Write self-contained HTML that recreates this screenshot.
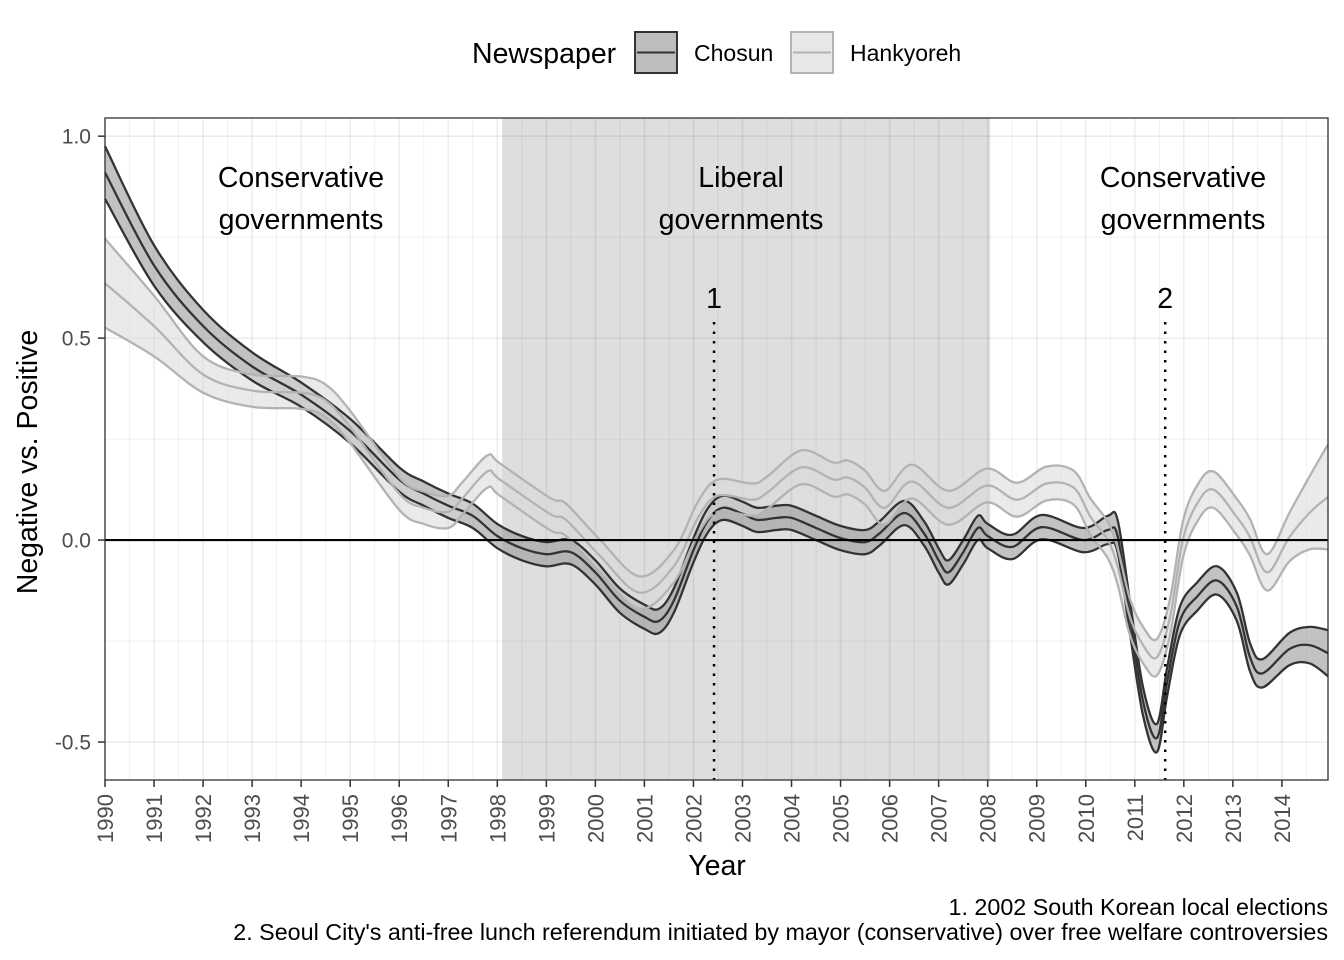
<!DOCTYPE html>
<html><head><meta charset="utf-8">
<style>
body{margin:0;background:#fff;}
svg{display:block;font-family:"Liberation Sans",sans-serif;}
</style></head>
<body>
<svg id="chart" width="1344" height="960" viewBox="0 0 1344 960" xmlns="http://www.w3.org/2000/svg">
<g id="legend">
  <text x="472" y="63" font-size="28.5" fill="#000">Newspaper</text>
  <g>
    <rect x="635" y="32" width="42" height="41" fill="#bdbdbd" stroke="#333" stroke-width="2"/>
    <line x1="637" y1="52.5" x2="675" y2="52.5" stroke="#333" stroke-width="2"/>
    <text x="694" y="61" font-size="23">Chosun</text>
  </g>
  <g>
    <rect x="791" y="32" width="42" height="41" fill="#e8e8e8" stroke="#b3b3b3" stroke-width="2"/>
    <line x1="793" y1="52.5" x2="831" y2="52.5" stroke="#b3b3b3" stroke-width="2"/>
    <text x="850" y="61" font-size="23">Hankyoreh</text>
  </g>
</g>
<g id="grid"></g>
<g id="marks"></g>
<g id="axes"></g>
<text x="301" y="187" font-size="28.5" text-anchor="middle">Conservative</text>
<text x="301" y="229" font-size="28.5" text-anchor="middle">governments</text>
<text x="741" y="187" font-size="28.5" text-anchor="middle">Liberal</text>
<text x="741" y="229" font-size="28.5" text-anchor="middle">governments</text>
<text x="1183" y="187" font-size="28.5" text-anchor="middle">Conservative</text>
<text x="1183" y="229" font-size="28.5" text-anchor="middle">governments</text>
<text x="25" y="450" font-size="28.5" text-anchor="middle" transform="rotate(-90 37 450)">Negative vs. Positive</text>
<text x="717" y="875" font-size="28.5" text-anchor="middle">Year</text>
<text x="1328" y="915" font-size="23.3" text-anchor="end">1. 2002 South Korean local elections</text>
<text x="1328" y="940" font-size="23.3" text-anchor="end">2. Seoul City's anti-free lunch referendum initiated by mayor (conservative) over free welfare controversies</text>
</svg>
<script>
const chosunYears=[1990,1991,1992,1993,1994,1995,1996,1996.5,1997,1997.5,1998,1998.5,1999,1999.5,2000,2000.5,2001,2001.3,2001.6,2002,2002.3,2002.6,2003,2003.3,2003.7,2004,2004.5,2005,2005.5,2005.8,2006.3,2006.7,2007,2007.2,2007.5,2007.8,2008,2008.5,2009.1,2009.95,2010.45,2010.65,2010.9,2011.17,2011.45,2011.66,2011.92,2012.27,2012.68,2013.08,2013.35,2013.6,2014.15,2014.56,2014.94];
const chosunMean=[0.91,0.68,0.53,0.43,0.36,0.27,0.15,0.115,0.085,0.06,0.01,-0.02,-0.035,-0.03,-0.08,-0.15,-0.19,-0.2,-0.15,-0.025,0.05,0.08,0.065,0.05,0.055,0.055,0.03,0.005,-0.005,0.017,0.067,0.017,-0.05,-0.08,-0.03,0.03,0.01,-0.017,0.032,0,0.025,0.01,-0.19,-0.4,-0.49,-0.35,-0.2,-0.14,-0.1,-0.165,-0.29,-0.33,-0.27,-0.26,-0.28];
const chosunHW=[0.065,0.05,0.04,0.035,0.03,0.03,0.03,0.03,0.03,0.03,0.03,0.03,0.03,0.03,0.03,0.03,0.03,0.03,0.03,0.03,0.03,0.03,0.03,0.03,0.03,0.03,0.03,0.03,0.03,0.03,0.03,0.03,0.03,0.03,0.03,0.03,0.03,0.03,0.03,0.03,0.035,0.04,0.04,0.035,0.035,0.035,0.035,0.035,0.035,0.035,0.035,0.035,0.04,0.045,0.057];
const hankYears=[1990,1991,1992,1993,1994,1994.5,1995,1996,1996.5,1997,1997.3,1997.8,1998.05,1999.07,1999.4,2000.1,2000.9,2001.6,2002.1,2002.5,2003.2,2003.5,2004.2,2004.85,2005.15,2005.5,2005.9,2006.45,2007.2,2007.98,2008.6,2009.2,2009.75,2010.1,2010.45,2010.65,2010.9,2011.17,2011.45,2011.72,2011.98,2012.27,2012.6,2013.08,2013.35,2013.7,2014.15,2014.56,2014.94];
const hankMean=[0.636,0.53,0.41,0.37,0.365,0.345,0.28,0.115,0.08,0.07,0.105,0.17,0.15,0.065,0.05,-0.04,-0.13,-0.065,0.057,0.11,0.1,0.117,0.18,0.15,0.155,0.13,0.08,0.145,0.08,0.135,0.1,0.14,0.13,0.057,0,-0.065,-0.19,-0.26,-0.29,-0.19,0,0.09,0.125,0.057,0.007,-0.08,0.007,0.067,0.107];
const hankHW=[0.11,0.075,0.045,0.04,0.04,0.04,0.04,0.04,0.04,0.04,0.04,0.04,0.04,0.04,0.04,0.04,0.04,0.04,0.04,0.04,0.04,0.04,0.042,0.042,0.042,0.042,0.042,0.042,0.042,0.042,0.042,0.042,0.042,0.045,0.045,0.045,0.045,0.045,0.045,0.045,0.045,0.045,0.045,0.045,0.045,0.045,0.06,0.09,0.13];
const yTicks=[-0.5,0,0.5,1];
const yTickLabels=["-0.5","0.0","0.5","1.0"];
const xTicks=[1990,1991,1992,1993,1994,1995,1996,1997,1998,1999,2000,2001,2002,2003,2004,2005,2006,2007,2008,2009,2010,2011,2012,2013,2014];
const liberalPeriod=[1998.1,2008.05];
const eventYears=[2002.42,2011.62];
const eventLabels=["1","2"];

const NS="http://www.w3.org/2000/svg";
const L=105,R=1328,T=118,B=780;
const X0=1990,X1=2014.94,Y0=-0.594,Y1=1.045;
const sx=v=>L+(v-X0)/(X1-X0)*(R-L);
const sy=v=>B-(v-Y0)/(Y1-Y0)*(B-T);
function mk(tag,attrs,parent){const e=document.createElementNS(NS,tag);for(const k in attrs)e.setAttribute(k,attrs[k]);parent.appendChild(e);return e;}
const grid=document.getElementById('grid'),marks=document.getElementById('marks'),axes=document.getElementById('axes');

const bg=mk('rect',{x:sx(liberalPeriod[0]),y:T,width:sx(liberalPeriod[1])-sx(liberalPeriod[0]),height:B-T,fill:'#dedede'},grid);


for(let v=-0.5;v<=1.0001;v+=0.25){
  const major=Math.abs(v*2-Math.round(v*2))<1e-6;
  const g=mk('line',{x1:L,x2:R,y1:sy(v),y2:sy(v),stroke:'rgba(0,0,0,0.07)','stroke-width':major?1.6:0.8},grid);
  
  
}
for(let v=1990;v<=2014.9;v+=0.5){
  const major=Number.isInteger(v);
  const g=mk('line',{x1:sx(v),x2:sx(v),y1:T,y2:B,stroke:'rgba(0,0,0,0.07)','stroke-width':major?1.6:0.8},grid);
  
  
}
function curve(xs,ys){
  const p=xs.map((x,i)=>[sx(x),sy(ys[i])]);
  let d='';
  for(let i=0;i<p.length-1;i++){
    const p0=p[Math.max(0,i-1)],p1=p[i],p2=p[i+1],p3=p[Math.min(p.length-1,i+2)];
    const c1=[p1[0]+(p2[0]-p0[0])/6,p1[1]+(p2[1]-p0[1])/6];
    const c2=[p2[0]-(p3[0]-p1[0])/6,p2[1]-(p3[1]-p1[1])/6];
    if(i===0)d+=`M${p1[0].toFixed(1)},${p1[1].toFixed(1)}`;
    d+=`C${c1[0].toFixed(1)},${c1[1].toFixed(1)} ${c2[0].toFixed(1)},${c2[1].toFixed(1)} ${p2[0].toFixed(1)},${p2[1].toFixed(1)}`;
  }
  return d;
}
function ribbonPath(xs,up,lo){
  const a=curve(xs,up);
  const b=curve(xs.slice().reverse(),lo.slice().reverse());
  return a+'L'+b.slice(1)+'Z';
}
function series(name,xs,m,hw,fill,op){
  const up=m.map((v,i)=>v+hw[i]),lo=m.map((v,i)=>v-hw[i]);
  const rb=mk('path',{d:ribbonPath(xs,up,lo),fill:fill,'fill-opacity':op,stroke:'none'},marks);
  
  
  return [up,lo];
}
function lines(name,xs,arrs,stroke){
  arrs.forEach((a,i)=>{
    const l=mk('path',{d:curve(xs,a),fill:'none',stroke:stroke,'stroke-width':2.3},marks);
    
    
  });
}
const cb=series('chosun',chosunYears,chosunMean,chosunHW,'#9a9a9a',0.6);
const hb=series('hankyoreh',hankYears,hankMean,hankHW,'#d9d9d9',0.55);
lines('chosun',chosunYears,[chosunMean,cb[0],cb[1]],'#333333');
lines('hankyoreh',hankYears,[hankMean,hb[0],hb[1]],'#b3b3b3');
const zl=mk('line',{x1:L,x2:R,y1:sy(0),y2:sy(0),stroke:'#000','stroke-width':2.2},marks);


eventYears.forEach((e,i)=>{
  const l=mk('line',{x1:sx(e),x2:sx(e),y1:322,y2:B,stroke:'#000','stroke-width':2.5,'stroke-dasharray':'2.5 7'},marks);
  
  
  const t=mk('text',{x:sx(e),y:308,'font-size':28.5,'text-anchor':'middle'},marks);
  t.textContent=eventLabels[i];
  
  
});
const fr=mk('rect',{x:L,y:T,width:R-L,height:B-T,fill:'none',stroke:'#333','stroke-width':1.3},axes);


yTicks.forEach((v,i)=>{
  const tk=mk('line',{x1:L-7,x2:L,y1:sy(v),y2:sy(v),stroke:'#333','stroke-width':1.5},axes);
  
  
  const t=mk('text',{x:L-14,y:sy(v)+7.5,'font-size':21,'text-anchor':'end',fill:'#4d4d4d'},axes);
  t.textContent=yTickLabels[i];
  
  
});
xTicks.forEach(v=>{
  const tk=mk('line',{x1:sx(v),x2:sx(v),y1:B,y2:B+7,stroke:'#333','stroke-width':1.5},axes);
  
  
  const t=mk('text',{x:sx(v)+8,y:B+14,'font-size':22,'text-anchor':'end',fill:'#4d4d4d',transform:`rotate(-90 ${sx(v)+8} ${B+14})`},axes);
  t.textContent=String(v);
  
  
});
</script>
</body></html>
